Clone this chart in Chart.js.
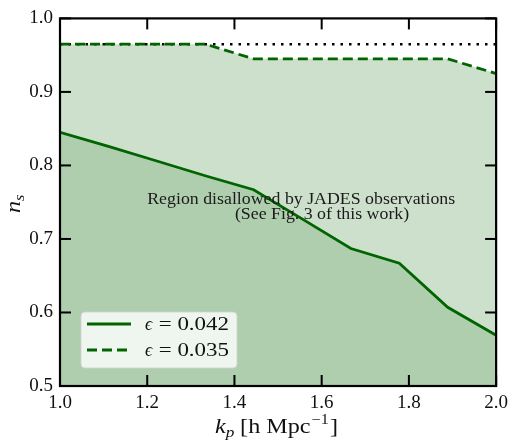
<!DOCTYPE html>
<html><head><meta charset="utf-8">
<script src="https://cdn.jsdelivr.net/npm/chart.js@4.4.1/dist/chart.umd.min.js"></script>
<style>html,body{margin:0;padding:0;background:#fff;}#wrap{width:514px;height:443px;}</style>
</head><body><div id="wrap"><canvas id="c" width="514" height="443"></canvas></div>
<script>
const kp = [1.0, 1.111, 1.222, 1.333, 1.444, 1.556, 1.667, 1.778, 1.889, 2.0];
const nsEps042 = [0.845, 0.826, 0.806, 0.786, 0.767, 0.727, 0.687, 0.667, 0.607, 0.569];
const nsEps035 = [0.965, 0.965, 0.965, 0.965, 0.945, 0.945, 0.945, 0.945, 0.945, 0.925];
const nsPlanck = [0.965, 0.965];
const planckK = [1.0, 2.0];
const legendLabels = ['\u03F5 = 0.042', '\u03F5 = 0.035'];
const annotation = ['Region disallowed by JADES observations', '(See Fig. 3 of this work)'];
const xTicks = [1.0, 1.2, 1.4, 1.6, 1.8, 2.0];
const yTicks = [0.5, 0.6, 0.7, 0.8, 0.9, 1.0];

const GREEN = '#006400';
const SERIF = '"Liberation Serif", "DejaVu Serif", serif';

function pts(xs, ys){ return xs.map((x,i)=>({x:x, y:ys[i]})); }

function wideText(ctx, text, x, y, sx){
  ctx.save(); ctx.translate(x, y); ctx.scale(sx, 1); ctx.fillText(text, 0, 0); ctx.restore();
}

const decor = {
  id: 'decor',
  afterDatasetsDraw(chart){
    const ctx = chart.ctx, a = chart.chartArea;
    const xs = chart.scales.x, ys = chart.scales.y;
    ctx.save();
    // frame
    ctx.strokeStyle = '#000'; ctx.lineWidth = 2.2;
    ctx.strokeRect(a.left, a.top, a.right - a.left, a.bottom - a.top);
    // inward ticks
    ctx.lineWidth = 2;
    const L = 11;
    xTicks.forEach(v=>{
      const p = xs.getPixelForValue(v);
      ctx.beginPath(); ctx.moveTo(p, a.bottom); ctx.lineTo(p, a.bottom - L); ctx.stroke();
      ctx.beginPath(); ctx.moveTo(p, a.top); ctx.lineTo(p, a.top + L); ctx.stroke();
    });
    yTicks.forEach(v=>{
      const p = ys.getPixelForValue(v);
      ctx.beginPath(); ctx.moveTo(a.left, p); ctx.lineTo(a.left + L, p); ctx.stroke();
      ctx.beginPath(); ctx.moveTo(a.right, p); ctx.lineTo(a.right - L, p); ctx.stroke();
    });
    // annotation text
    ctx.fillStyle = '#1a1a1a';
    ctx.textBaseline = 'alphabetic'; ctx.textAlign = 'left';
    ctx.font = '16.5px ' + SERIF;
    const sx = 308 / ctx.measureText(annotation[0]).width;
    wideText(ctx, annotation[0], xs.getPixelForValue(1.2), ys.getPixelForValue(0.748), sx);
    wideText(ctx, annotation[1], xs.getPixelForValue(1.401), ys.getPixelForValue(0.727), sx);
    // legend
    const lx = a.left + 21, ly = a.bottom - 74, lw = 156, lh = 56;
    ctx.beginPath();
    ctx.roundRect(lx, ly, lw, lh, 4);
    ctx.fillStyle = 'rgba(255,255,255,0.8)'; ctx.fill();
    ctx.strokeStyle = 'rgba(210,210,210,0.8)'; ctx.lineWidth = 1; ctx.stroke();
    const rows = [ly + 12, ly + 38];
    ctx.strokeStyle = GREEN; ctx.lineWidth = 2.8;
    ctx.beginPath(); ctx.setLineDash([]); ctx.moveTo(lx + 6, rows[0]); ctx.lineTo(lx + 50, rows[0]); ctx.stroke();
    ctx.beginPath(); ctx.setLineDash([10, 5]); ctx.moveTo(lx + 6, rows[1]); ctx.lineTo(lx + 50, rows[1]); ctx.stroke();
    ctx.setLineDash([]);
    ctx.fillStyle = '#111';
    ctx.textBaseline = 'alphabetic';
    legendLabels.forEach((t,i)=>{
      ctx.font = 'italic 18px ' + SERIF;
      ctx.fillText('\u03F5', lx + 64, rows[i] + 6);
      ctx.font = '18px ' + SERIF;
      const num = t.slice(1);
      const w = ctx.measureText(num).width;
      wideText(ctx, num, lx + 72, rows[i] + 6, 76 / w);
    });
    // x axis title: k_p [h Mpc^-1]
    ctx.fillStyle = '#111';
    const by = 433;
    ctx.save(); ctx.translate(215, by); ctx.scale(1.15, 1);
    let x = 0;
    ctx.font = 'italic 21px ' + SERIF; ctx.fillText('k', x, 0); x += ctx.measureText('k').width;
    ctx.font = 'italic 15px ' + SERIF; ctx.fillText('p', x, 4); x += ctx.measureText('p').width + 5;
    ctx.font = '21px ' + SERIF; ctx.fillText('[h Mpc', x, 0); x += ctx.measureText('[h Mpc').width + 1;
    ctx.font = '14px ' + SERIF; ctx.fillText('\u22121', x, -9); x += ctx.measureText('\u22121').width + 1;
    ctx.font = '21px ' + SERIF; ctx.fillText(']', x, 0);
    ctx.restore();
    // y axis title: n_s
    ctx.save();
    ctx.translate(20, 213);
    ctx.rotate(-Math.PI/2);
    ctx.scale(1.1, 1);
    ctx.font = 'italic 22px ' + SERIF; ctx.fillText('n', 0, 0);
    const nw = ctx.measureText('n').width;
    ctx.font = 'italic 15px ' + SERIF; ctx.fillText('s', nw, 4);
    ctx.restore();
    ctx.restore();
  }
};

new Chart(document.getElementById('c'), {
  type: 'line',
  data: {
    datasets: [
      { label: legendLabels[0], data: pts(kp, nsEps042), borderColor: GREEN, borderWidth: 2.8,
        backgroundColor: 'rgba(0,100,0,0.15)', fill: 'start', pointRadius: 0, tension: 0 },
      { label: legendLabels[1], data: pts(kp, nsEps035), borderColor: GREEN, borderWidth: 2.8,
        borderDash: [10, 5], backgroundColor: 'rgba(0,100,0,0.2)', fill: 'start', pointRadius: 0, tension: 0 },
      { label: 'Planck', data: pts(planckK, nsPlanck), borderColor: '#000', borderWidth: 2.5,
        borderDash: [2.5, 6], fill: false, pointRadius: 0, tension: 0 }
    ]
  },
  options: {
    responsive: false, animation: false,
    layout: { padding: { top: 9, right: 13, left: 0, bottom: 0 } },
    plugins: { legend: { display: false }, tooltip: { enabled: false } },
    scales: {
      x: { type: 'linear', min: 1.0, max: 2.0,
        afterFit(s){ s.height = 57; },
        afterBuildTicks(s){ s.ticks = xTicks.map(v=>({value:v})); },
        grid: { display: false, drawTicks: false }, border: { display: false },
        ticks: { padding: 6, color: '#111', font: { family: SERIF, size: 19 }, maxRotation: 0,
          callback: v => v.toFixed(1) } },
      y: { type: 'linear', min: 0.5, max: 1.0,
        afterFit(s){ s.width = 60; },
        afterBuildTicks(s){ s.ticks = yTicks.map(v=>({value:v})); },
        grid: { display: false, drawTicks: false }, border: { display: false },
        ticks: { padding: 7, color: '#111', font: { family: SERIF, size: 19 },
          callback: v => v.toFixed(1) } }
    }
  },
  plugins: [decor]
});
</script></body></html>
